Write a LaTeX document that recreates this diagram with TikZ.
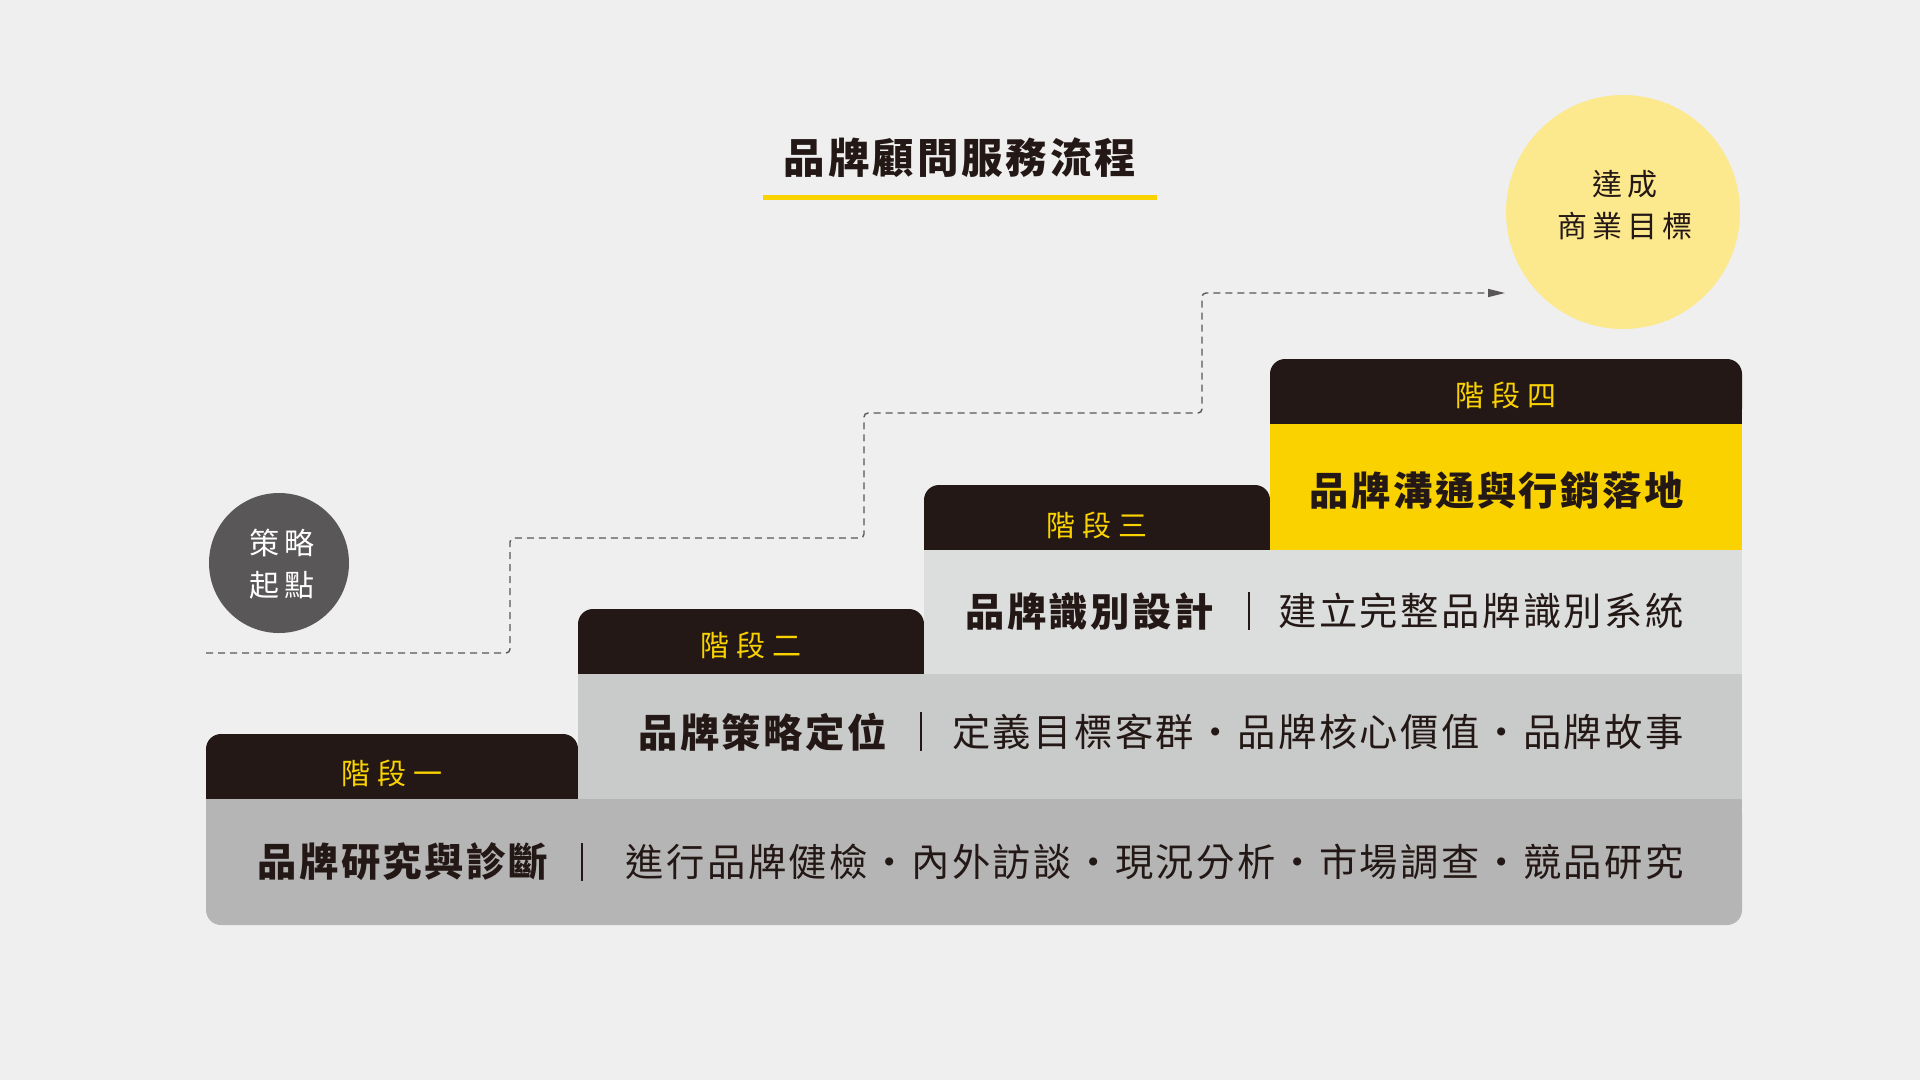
\documentclass[tikz,border=0pt]{standalone}
\usepackage{fontspec}
\usetikzlibrary{arrows.meta}
\newfontfamily\cjkbody[LetterSpace=6.5]{Noto Sans CJK TC}
\newfontfamily\cjktitle[LetterSpace=7]{Noto Sans CJK TC}
\newfontfamily\cjktab[LetterSpace=25]{Noto Sans CJK TC}
\newfontfamily\cjkcirc[LetterSpace=16]{Noto Sans CJK TC}
\definecolor{bg}{HTML}{EFEFEF}
\definecolor{ink}{HTML}{231815}
\definecolor{brandyellow}{HTML}{F9D200}
\definecolor{softyellow}{HTML}{FCE98E}
\definecolor{stonegray}{HTML}{595757}
\definecolor{barA}{HTML}{B5B5B6}
\definecolor{barB}{HTML}{C9CACA}
\definecolor{barC}{HTML}{DCDDDD}
\begin{document}
\begin{tikzpicture}[x=1pt,y=-1pt,
  tabfill/.style={fill=ink},
  tablabel/.style={inner sep=0pt, text=brandyellow, font={\cjktab\fontsize{29pt}{29pt}\selectfont}},
  headtext/.style={inner sep=0pt, text=ink, anchor=east, font={\cjkbody\bfseries\fontsize{39.3pt}{39.3pt}\selectfont}},
  desctext/.style={inner sep=0pt, text=ink, anchor=east, font={\cjkbody\fontsize{38.3pt}{38.3pt}\selectfont}},
  sepline/.style={draw=ink, line width=1.4pt},
  circtext/.style={inner sep=0pt, align=center, font={\cjkcirc\fontsize{30pt}{42pt}\selectfont}},
  flow/.style={draw=stonegray, line width=1.4pt, dash pattern=on 7pt off 5pt, rounded corners=4pt, -{Triangle[length=17pt,width=8pt]}}
]
\fill[bg] (0,0) rectangle (1920,1080);
\useasboundingbox (0,0) rectangle (1920,1080);

% title
\node[inner sep=0pt, text=ink, font={\cjktitle\bfseries\fontsize{41.5pt}{41.5pt}\selectfont}] (title) at (960,158) {品牌顧問服務流程};
\coordinate (ulA) at (763,197);
\coordinate (ulB) at (1157,197);
\draw[brandyellow, line width=5pt] (ulA) -- (ulB);

% circles
\node[circle, fill=softyellow, minimum size=234pt, inner sep=0pt] (goal) at (1623,212) {};
\node[circtext, text=ink] (goaltxt) at (1625,205) {達成\\商業目標};
\node[circle, fill=stonegray, minimum size=140pt, inner sep=0pt] (start) at (279,563) {};
\node[circtext, text=white] (starttxt) at (282,564) {策略\\起點};

% dashed path
\coordinate (pathstart) at (206,653);
\coordinate (pathend) at (1505,293);
\draw[flow] (pathstart) -- (510,653) -- (510,538) -- (864,538) -- (864,413) -- (1202,413) -- (1202,293) -- (pathend);

% stage 1
\fill[tabfill, rounded corners=15pt] (206,734) rectangle (578,799);
\fill[tabfill] (206,760) rectangle (578,799);
\fill[barA, rounded corners=15pt] (206,799) rectangle (1742,925);
\fill[barA] (206,799) rectangle (1742,860);
% stage 2
\fill[tabfill, rounded corners=15pt] (578,609) rectangle (924,674);
\fill[tabfill] (578,640) rectangle (924,674);
\fill[barB] (578,674) rectangle (1742,799);
% stage 3
\fill[tabfill, rounded corners=15pt] (924,485) rectangle (1270,550);
\fill[tabfill] (924,515) rectangle (1270,550);
\fill[barC] (924,550) rectangle (1742,674);
% stage 4
\fill[tabfill, rounded corners=15pt] (1270,359) rectangle (1742,424);
\fill[tabfill] (1270,390) rectangle (1742,424);
\fill[brandyellow] (1270,424) rectangle (1742,550);

% tab labels
\node[tablabel] (tab1) at (392,773) {階段一};
\node[tablabel] (tab2) at (751,645) {階段二};
\node[tablabel] (tab3) at (1097,525) {階段三};
\node[tablabel] (tab4) at (1506,395) {階段四};

% stage texts
\node[headtext] (head1) at (548,862) {品牌研究與診斷};
\draw[sepline] (582,843) -- (582,881);
\node[desctext] (desc1) at (1684,862) {進行品牌健檢・內外訪談・現況分析・市場調查・競品研究};

\node[headtext] (head2) at (887,732) {品牌策略定位};
\draw[sepline] (921,712) -- (921,751);
\node[desctext] (desc2) at (1684,732) {定義目標客群・品牌核心價值・品牌故事};

\node[headtext] (head3) at (1214,611) {品牌識別設計};
\draw[sepline] (1249,592) -- (1249,630);
\node[desctext] (desc3) at (1684,611) {建立完整品牌識別系統};

\node[headtext] (head4) at (1684,491) {品牌溝通與行銷落地};
\end{tikzpicture}
\end{document}
